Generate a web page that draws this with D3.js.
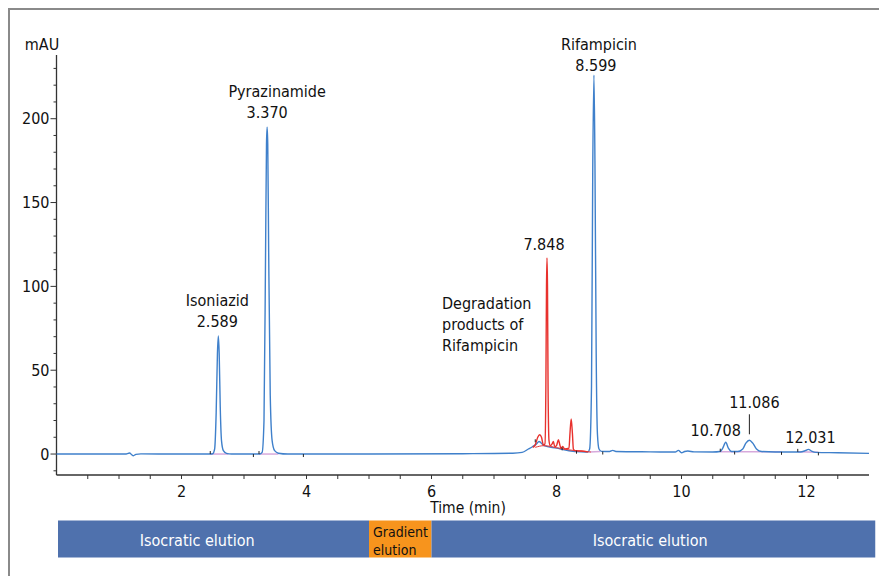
<!DOCTYPE html>
<html>
<head>
<meta charset="utf-8">
<script src="https://cdn.jsdelivr.net/npm/d3@7/dist/d3.min.js"></script>
<style>
  html, body { margin: 0; padding: 0; background: #fff; }
  svg { display: block; }
  text { font-family: "DejaVu Sans Condensed", "Liberation Sans Narrow", sans-serif; }
</style>
</head>
<body>
<svg id="chart" width="879" height="576"></svg>
<script>
// ---------------- DATA ----------------
// Blue trace (time in min, absorbance in mAU)
const blueTime = [0, 1.1, 1.17, 1.2, 1.23, 1.27, 1.35, 2.0, 2.45,
  2.50, 2.53, 2.555, 2.575, 2.589, 2.603, 2.62, 2.64, 2.67, 2.72, 2.8,
  3.25, 3.29, 3.32, 3.345, 3.36, 3.37, 3.38, 3.395, 3.42, 3.45, 3.49, 3.55, 3.7,
  5.0, 6.5, 7.3, 7.45, 7.55, 7.62, 7.68, 7.72, 7.8, 8.0, 8.2, 8.4,
  8.5, 8.53, 8.56, 8.58, 8.599, 8.615, 8.635, 8.655, 8.68, 8.72, 8.85, 8.9, 8.95,
  9.5, 9.9, 9.95, 10.0, 10.05, 10.1, 10.2, 10.5, 10.62,
  10.66, 10.708, 10.75, 10.8, 10.9, 10.98, 11.03, 11.086, 11.14, 11.2, 11.28,
  11.5, 11.9, 11.98, 12.031, 12.08, 12.15, 12.5, 13.0];
const blueMAU = [0, 0, 0.6, -0.3, -1.0, -0.2, 0.1, 0, 0,
  0.2, 3, 25, 60, 70.5, 60, 28, 8, 2, 0.4, 0,
  0, 1, 20, 120, 185, 195, 185, 120, 35, 8, 2, 0.5, 0,
  0, 0.2, 0.5, 1, 3, 4.5, 6, 7.5, 5, 3.5, 2, 1.3,
  1.2, 3, 40, 170, 226, 175, 60, 12, 3, 1.6, 1.5, 2.2, 1.5,
  1.3, 1.2, 2.2, 0.8, 1.5, 1.8, 1.3, 1.2, 1.5,
  3.5, 7, 3.5, 1.5, 1.5, 3, 6.5, 8.2, 6.5, 3, 1.5,
  1.2, 1.2, 2, 2.8, 1.8, 1, 0.8, 0.4];

// Red trace: degradation products of Rifampicin
const redTime = [7.62, 7.66, 7.7, 7.73, 7.76, 7.79, 7.815, 7.83, 7.84, 7.848, 7.856, 7.865, 7.88,
  7.9, 7.93, 7.95, 7.97, 8.0, 8.03, 8.05, 8.07, 8.1, 8.13, 8.2, 8.215, 8.235, 8.255, 8.27, 8.3, 8.4, 8.5];
const redMAU = [4, 5.5, 10, 11.5, 10, 5.5, 6, 40, 100, 117, 100, 40, 8,
  5, 6, 7.5, 4.5, 5, 8.5, 6, 3.5, 4.5, 3, 3.5, 12, 21, 12, 3, 2, 1.8, 1.3];

// Red integration baseline under the degradation peaks
const redBaseTime = [7.66, 7.8, 8.0, 8.2, 8.45, 8.55];
const redBaseMAU = [4, 5, 3.8, 2.5, 1.5, 1.2];

// Integration baselines (start, end, level start, level end)
const integStart = [2.46, 3.24, 8.53, 10.62, 11.86];
const integEnd   = [2.75, 3.55, 8.70, 11.60, 12.19];
const integLevStart = [0, 0, 1.2, 1.4, 1.3];
const integLevEnd   = [0, 0, 1.5, 1.3, 1.0];

// Integration event markers (time, up=1 / down=-1)
const markTime = [2.46, 3.15, 3.24, 3.95, 7.66, 8.09, 8.32, 8.74, 10.62, 10.85, 11.6, 11.86, 12.19];
const markDir  = [1, -1, 1, -1, 1, -1, -1, -1, 1, -1, -1, 1, -1];
const markLev  = [0, 0, 0, 0, 7, 4, 2, 1.5, 1.4, 1.5, 1.3, 1.3, 1.0];

// Axis ticks
const xTicks = [0.5, 1, 1.5, 2, 2.5, 3, 3.5, 4, 4.5, 5, 5.5, 6, 6.5, 7, 7.5, 8, 8.5, 9, 9.5, 10, 10.5, 11, 11.5, 12, 12.5];
const xTickLabels = [2, 4, 6, 8, 10, 12];
const yMajorTicks = [0, 50, 100, 150, 200];
const yMinorTicks = [-10, 10, 20, 30, 40, 60, 70, 80, 90, 110, 120, 130, 140, 160, 170, 180, 190, 210, 220, 230];

// Peak labels
const peakNames = ["Isoniazid", "Pyrazinamide", "", "Rifampicin", "", "", ""];
const peakTimes = ["2.589", "3.370", "7.848", "8.599", "10.708", "11.086", "12.031"];

// Elution program
const phaseStart = [0, 5, 6];
const phaseEnd = [5, 6, 13.1];
const phaseName = ["Isocratic elution", "Gradient elution", "Isocratic elution"];

// ---------------- DRAW ----------------
const svg = d3.select("#chart");
const x = d3.scaleLinear().domain([0, 13]).range([56.5, 869]);
const y = d3.scaleLinear().domain([-12.5, 238]).range([475, 55]);

// outer frame
svg.append("rect").attr("x", 9).attr("y", 9).attr("width", 900).attr("height", 600)
  .attr("fill", "none").attr("stroke", "#8a8a8a").attr("stroke-width", 2);

const axisColor = "#333";
// Y axis
const gy = svg.append("g").attr("transform", `translate(${x(0)},0)`);
gy.append("line").attr("y1", y(238)).attr("y2", y(-12.5)).attr("stroke", axisColor).attr("stroke-width", 1.3);
gy.selectAll(".ymin").data(yMinorTicks).join("line")
  .attr("x1", -3).attr("x2", 0).attr("y1", d => y(d)).attr("y2", d => y(d))
  .attr("stroke", axisColor).attr("stroke-width", 1);
gy.selectAll(".ymaj").data(yMajorTicks).join("line")
  .attr("x1", -6).attr("x2", 0).attr("y1", d => y(d)).attr("y2", d => y(d))
  .attr("stroke", axisColor).attr("stroke-width", 1);
gy.selectAll(".ylab").data(yMajorTicks).join("text")
  .attr("x", -7).attr("y", d => y(d)).attr("dy", "0.36em")
  .attr("text-anchor", "end").attr("font-size", 16)
  .attr("fill", "#111").text(d => d);
svg.append("text").attr("x", 42).attr("y", 50).attr("text-anchor", "middle")
  .attr("font-size", 16).attr("fill", "#111").text("mAU");

// X axis
const gx = svg.append("g").attr("transform", `translate(0,${y(-12.5)})`);
gx.append("line").attr("x1", x(0)).attr("x2", x(13)).attr("stroke", axisColor).attr("stroke-width", 1.3);
gx.selectAll(".xt").data(xTicks).join("line")
  .attr("x1", d => x(d)).attr("x2", d => x(d)).attr("y1", 0).attr("y2", 4)
  .attr("stroke", axisColor).attr("stroke-width", 1);
gx.selectAll(".xl").data(xTickLabels).join("text")
  .attr("x", d => x(d)).attr("y", 22).attr("text-anchor", "middle")
  .attr("font-size", 16).attr("fill", "#111").text(d => d);
svg.append("text").attr("x", 468).attr("y", 513).attr("text-anchor", "middle")
  .attr("font-size", 15.5).attr("fill", "#111").text("Time (min)");

// integration baselines
svg.selectAll(".integ").data(integStart).join("line")
  .attr("x1", (d, i) => x(d)).attr("x2", (d, i) => x(integEnd[i]))
  .attr("y1", (d, i) => y(integLevStart[i])).attr("y2", (d, i) => y(integLevEnd[i]))
  .attr("stroke", "#d7a9dc").attr("stroke-width", 1.5);

// traces
const line = d3.line().x(d => x(d[0])).y(d => y(d[1])).curve(d3.curveMonotoneX);
const blue = blueTime.map((t, i) => [t, blueMAU[i]]);
const red = redTime.map((t, i) => [t, redMAU[i]]);
const redBase = redBaseTime.map((t, i) => [t, redBaseMAU[i]]);

svg.append("path").datum(blue).attr("d", line)
  .attr("fill", "none").attr("stroke", "#3f80cb").attr("stroke-width", 1.4);
svg.append("path").datum(redBase).attr("d", line)
  .attr("fill", "none").attr("stroke", "#e8393a").attr("stroke-width", 1);
svg.append("path").datum(red).attr("d", line)
  .attr("fill", "none").attr("stroke", "#e8312d").attr("stroke-width", 1.4);

// integration markers
svg.selectAll(".mark").data(markTime).join("line")
  .attr("x1", d => x(d)).attr("x2", d => x(d))
  .attr("y1", (d, i) => y(markLev[i]))
  .attr("y2", (d, i) => y(markLev[i]) - 3 * markDir[i])
  .attr("stroke", "#222").attr("stroke-width", 1);

// peak labels
function label(lines, cx, baseY, anchor) {
  const t = svg.append("text").attr("font-size", 16)
    .attr("fill", "#111").attr("text-anchor", anchor || "middle");
  lines.forEach((s, i) => {
    t.append("tspan").attr("x", cx[i]).attr("y", baseY + i * 21).text(s);
  });
}
// Isoniazid
label([peakNames[0], peakTimes[0]], [x(2.589) - 1, x(2.589) - 1], y(70.5) - 30);
// Pyrazinamide
label([peakNames[1], peakTimes[1]], [x(3.37) + 10, x(3.37)], y(195) - 30);
// 7.848
label([peakTimes[2]], [x(7.848) - 3], y(117) - 8);
// Rifampicin
label([peakNames[3], peakTimes[3]], [x(8.599) + 5, x(8.599) + 2], y(226) - 25);
// Degradation products
label(["Degradation", "products of", "Rifampicin"], [442, 442, 442], 309, "start");
// small peaks
label([peakTimes[4]], [x(10.708) - 10], y(7) - 6);
label([peakTimes[5]], [x(11.086) + 5], y(8.2) - 32);
svg.append("line").attr("x1", x(11.086)).attr("x2", x(11.086))
  .attr("y1", y(8.2) - 26).attr("y2", y(8.2) - 6).attr("stroke", "#222").attr("stroke-width", 1);
label([peakTimes[6]], [x(12.031) + 2], y(2.8) - 6);

// elution bar
const barTop = 520.5, barH = 37;
const phases = phaseStart.map((s, i) => ({ s, e: phaseEnd[i], name: phaseName[i], i }));
svg.selectAll(".phase").data(phases).join("rect")
  .attr("x", d => x(d.s) + (d.i === 0 ? 1.5 : 0)).attr("y", barTop)
  .attr("width", d => x(d.e) - x(d.s) - (d.i === 0 ? 1.5 : 0)).attr("height", barH)
  .attr("fill", d => d.i === 1 ? "#f7941d" : "#4f71ad");
// phase labels
svg.append("text").attr("x", x(2.25)).attr("y", barTop + 25).attr("text-anchor", "middle")
  .attr("font-size", 16).attr("fill", "#fff").text(phaseName[0]);
svg.append("text").attr("x", x(9.5)).attr("y", barTop + 25).attr("text-anchor", "middle")
  .attr("font-size", 16).attr("fill", "#fff").text(phaseName[2]);
const g2 = svg.append("text").attr("font-size", 14).attr("fill", "#111");
phaseName[1].split(" ").forEach((s, i) => {
  g2.append("tspan").attr("x", x(5) + 4).attr("y", barTop + 16 + i * 18).text(s);
});
</script>
</body>
</html>
